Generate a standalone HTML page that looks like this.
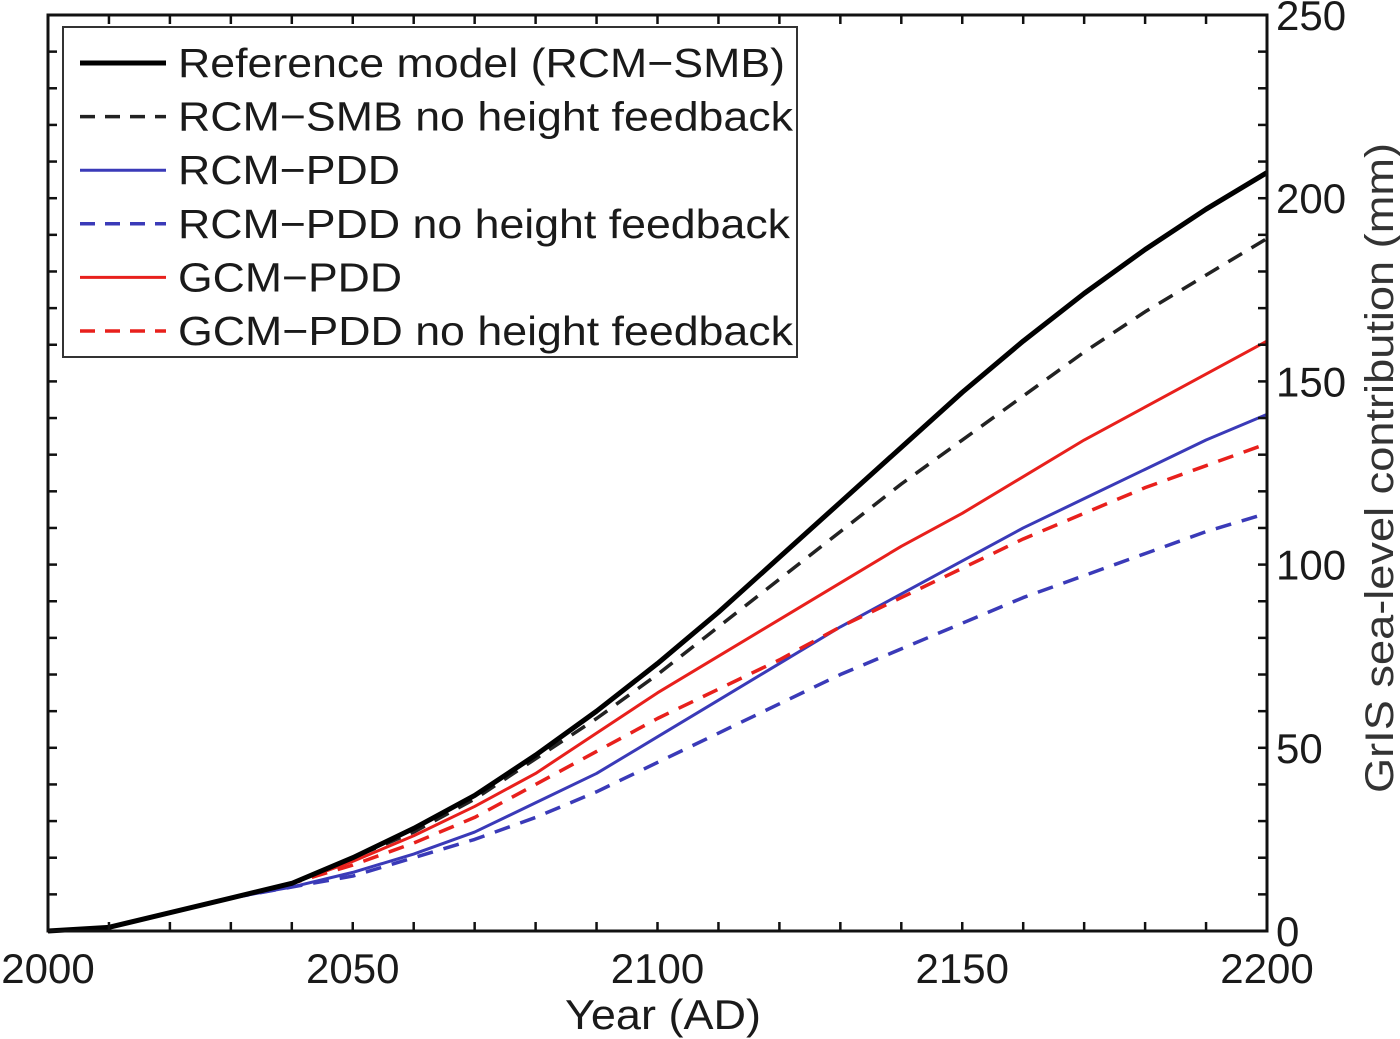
<!DOCTYPE html>
<html><head><meta charset="utf-8"><style>
body{margin:0;background:#fff;}
svg{display:block;font-family:"Liberation Sans",sans-serif;}
</style></head><body>
<svg id="chart" width="1400" height="1039" viewBox="0 0 1400 1039" xmlns="http://www.w3.org/2000/svg"></svg>
<script>
const years=[2000,2010,2020,2030,2040,2050,2060,2070,2080,2090,2100,2110,2120,2130,2140,2150,2160,2170,2180,2190,2200];
const refSolid=[0,1,5,9,13,20,28,37,48,60,73,87,102,117,132,147,161,174,186,197,207];
const refDashed=[0,1,5,9,13,20,27,36,47,58,70,83,96,109,122,134,146,158,169,179,189];
const rcmPdd=[0,1,5,9,12,16,21,27,35,43,53,63,73,83,92,101,110,118,126,134,141];
const rcmPddNo=[0,1,5,9,12,15,20,25,31,38,46,54,62,70,77,84,91,97,103,109,114];
const gcmPdd=[0,1,5,9,13,19,26,34,43,54,65,75,85,95,105,114,124,134,143,152,161];
const gcmPddNo=[0,1,5,9,13,18,24,31,40,49,58,66,74,83,91,99,107,114,121,127,133];
const xTickLabels=[2000,2050,2100,2150,2200];
const yTickLabels=[0,50,100,150,200,250];
const legendLabels=["Reference model (RCM\u2212SMB)","RCM\u2212SMB no height feedback","RCM\u2212PDD","RCM\u2212PDD no height feedback","GCM\u2212PDD","GCM\u2212PDD no height feedback"];
const legendWidths=[607,615,222,612,224,615];

const L=48,R=1267,T=15,B=931;
const xs=y=>L+(y-2000)/200*(R-L);
const ys=v=>B-v/250*(B-T);
const NS="http://www.w3.org/2000/svg";
const svg=document.getElementById('chart');
function mk(tag,attrs,parent){const e=document.createElementNS(NS,tag);for(const k in attrs)e.setAttribute(k,attrs[k]);(parent||svg).appendChild(e);return e;}

const series=[
 {d:refSolid,c:"#000",w:5,dash:"",name:"reference-model-line"},
 {d:refDashed,c:"#222",w:3.5,dash:"16 11",name:"rcm-smb-no-feedback-line"},
 {d:rcmPdd,c:"#3a3ab8",w:3,dash:"",name:"rcm-pdd-line"},
 {d:rcmPddNo,c:"#3a3ab8",w:3.5,dash:"16 11",name:"rcm-pdd-no-feedback-line"},
 {d:gcmPdd,c:"#e8201c",w:3,dash:"",name:"gcm-pdd-line"},
 {d:gcmPddNo,c:"#e8201c",w:3.5,dash:"16 11",name:"gcm-pdd-no-feedback-line"}
];
const order=[3,2,5,4,1,0];
for(const i of order){const s=series[i];
 const p=mk('polyline',{points:s.d.map((v,j)=>xs(years[j])+","+ys(v)).join(" "),fill:"none",stroke:s.c,"stroke-width":s.w,"stroke-dasharray":s.dash,"stroke-linejoin":"round"});
 
 
}
const box=mk('rect',{x:L,y:T,width:R-L,height:B-T,fill:"none",stroke:"#111","stroke-width":3});


for(let y=2000;y<=2200;y+=10){
 const t1=mk('line',{x1:xs(y),x2:xs(y),y1:B,y2:B-9,stroke:"#111","stroke-width":2.5});
 
 
 const t2=mk('line',{x1:xs(y),x2:xs(y),y1:T,y2:T+9,stroke:"#111","stroke-width":2.5});
 
 
}
for(let v=0;v<=250;v+=10){
 const t1=mk('line',{x1:L,x2:L+9,y1:ys(v),y2:ys(v),stroke:"#111","stroke-width":2.5});
 
 
 const t2=mk('line',{x1:R,x2:R-9,y1:ys(v),y2:ys(v),stroke:"#111","stroke-width":2.5});
 
 
}
for(const y of xTickLabels){
 const t=mk('text',{x:xs(y),y:983,"text-anchor":"middle","font-size":42,fill:"#1a1a1a"});
 t.textContent=y;
 
 
}
for(const v of yTickLabels){
 const t=mk('text',{x:1276,y:ys(v)+15,"font-size":42,fill:"#1a1a1a"});
 t.textContent=v;
 
 
}
const xt=mk('text',{x:663,y:1029,"text-anchor":"middle","font-size":42,fill:"#1a1a1a",textLength:196,lengthAdjust:"spacingAndGlyphs"});
xt.textContent="Year (AD)";


const yt=mk('text',{x:0,y:0,"text-anchor":"middle","font-size":40,fill:"#333",textLength:650,lengthAdjust:"spacingAndGlyphs",transform:"translate(1393,468) rotate(-90)"});
yt.textContent="GrIS sea-level contribution (mm)";


const lg=mk('g',{});


const lb=mk('rect',{x:63,y:27,width:734,height:330,fill:"#fff",stroke:"#333","stroke-width":2},lg);


legendLabels.forEach((lab,i)=>{
 const s=series[i];const yy=63+i*53.6;
 const e=mk('g',{},lg);
 
 
 mk('line',{x1:80,x2:166,y1:yy,y2:yy,stroke:s.c,"stroke-width":s.w,"stroke-dasharray":s.dash?"15 10":""},e);
 const t=mk('text',{x:178,y:yy+14,"font-size":41,fill:"#1a1a1a",textLength:legendWidths[i],lengthAdjust:"spacingAndGlyphs"},e);
 t.textContent=lab;
});
</script>
</body></html>
